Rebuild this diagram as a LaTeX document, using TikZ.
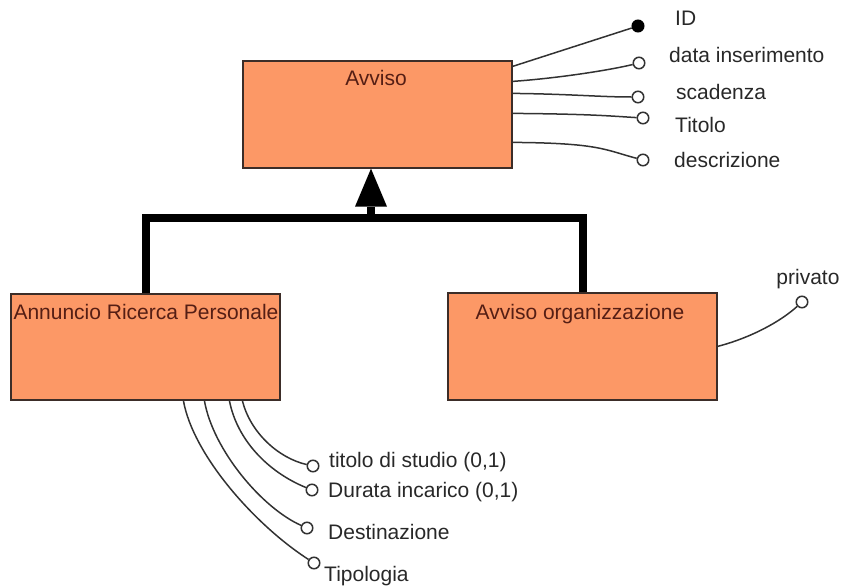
\documentclass[tikz,border=0pt]{standalone}
\usepackage{fontspec}
\setmainfont{Liberation Sans}
\usetikzlibrary{arrows.meta,calc}
\definecolor{entfill}{RGB}{252,152,102}
\definecolor{entedge}{RGB}{60,45,40}
\definecolor{enttext}{RGB}{85,30,20}
\definecolor{attrline}{RGB}{50,50,50}
\definecolor{attrtext}{RGB}{40,40,40}

\begin{document}
\begin{tikzpicture}[x=1pt,y=-1pt,
  entity/.style={draw=entedge, fill=entfill, line width=1.2pt,
    minimum width=269pt, minimum height=107pt, inner sep=0pt},
  etitle/.style={text=enttext, font=\fontsize{21}{25}\selectfont,
    anchor=base, inner sep=0pt},
  attr/.style={circle, draw=attrline, fill=white, line width=1.5pt,
    minimum size=11.5pt, inner sep=0pt},
  keyattr/.style={attr, fill=black, draw=black},
  aname/.style={text=attrtext, font=\fontsize{21}{25}\selectfont,
    anchor=base west, inner sep=0pt},
  link/.style={draw=attrline, line width=1.5pt},
  isa/.style={line width=8pt, line join=miter}
]
\useasboundingbox (0,0) rectangle (841,587);

% entities
\node[entity] (avviso) at (377.5,114.5) {};
\node[etitle] (avvisoT) at (376,85) {Avviso};
\node[entity, minimum height=106pt] (annuncio) at (145.5,347) {};
\node[etitle] (annuncioT) at (146,319) {Annuncio Ricerca Personale};
\node[entity] (org) at (582.5,346.5) {};
\node[etitle] (orgT) at (580,319) {Avviso organizzazione};

% generalization
\coordinate (hub) at (371,217.5);
\draw[isa] (annuncio.north) |- (hub) -| (org.north);
\draw[isa, -{Triangle[length=38pt,width=32pt,line width=0pt]}]
  (hub) -- (avviso.south -| hub);

% attributes of Avviso
\node[keyattr] (id) at (638,26) {};
\node[attr] (dataIns) at (639,63) {};
\node[attr] (scad) at (638,97) {};
\node[attr] (tit) at (643,118) {};
\node[attr] (descr) at (643,160) {};
\node[aname] (idL) at (675,25) {ID};
\node[aname] (dataL) at (669,62) {data inserimento};
\node[aname] (scadL) at (676,99) {scadenza};
\node[aname] (titL) at (675,132) {Titolo};
\node[aname] (descrL) at (674,167) {descrizione};

\draw[link] ($(avviso.north east)+(0,6)$) -- (id);
\draw[link] ($(avviso.north east)+(0,21)$) .. controls (560,78) and (610,70) .. (dataIns);
\draw[link] ($(avviso.north east)+(0,33)$) .. controls (570,94) and (600,97) .. (scad);
\draw[link] ($(avviso.north east)+(0,53)$) .. controls (590,114) and (610,116) .. (tit);
\draw[link] ($(avviso.north east)+(0,82)$) .. controls (600,143) and (605,150) .. (descr);

% attribute of Avviso organizzazione
\node[attr] (priv) at (802,302) {};
\node[aname, anchor=base] (privL) at (808,284) {privato};
\draw[link] ($(org.north east)+(0,54)$) .. controls (750,338) and (780,322) .. (priv);

% attributes of Annuncio Ricerca Personale
\node[attr] (tds) at (313,466) {};
\node[attr] (dur) at (312,490) {};
\node[attr] (dest) at (307,528) {};
\node[attr] (tipo) at (314,563) {};
\node[aname] (tdsL) at (329,467) {titolo di studio (0,1)};
\node[aname] (durL) at (328,497) {Durata incarico (0,1)};
\node[aname] (destL) at (328,539) {Destinazione};
\node[aname] (tipoL) at (324,581) {Tipologia};

\draw[link] ($(annuncio.south west)+(232,0)$) .. controls (250,432) and (278,458) .. (tds);
\draw[link] ($(annuncio.south west)+(219,0)$) .. controls (237,440) and (268,472) .. (dur);
\draw[link] ($(annuncio.south west)+(194,0)$) .. controls (213,450) and (262,508) .. (dest);
\draw[link] ($(annuncio.south west)+(173,0)$) .. controls (193,455) and (255,525) .. (tipo);
\end{tikzpicture}
\end{document}
